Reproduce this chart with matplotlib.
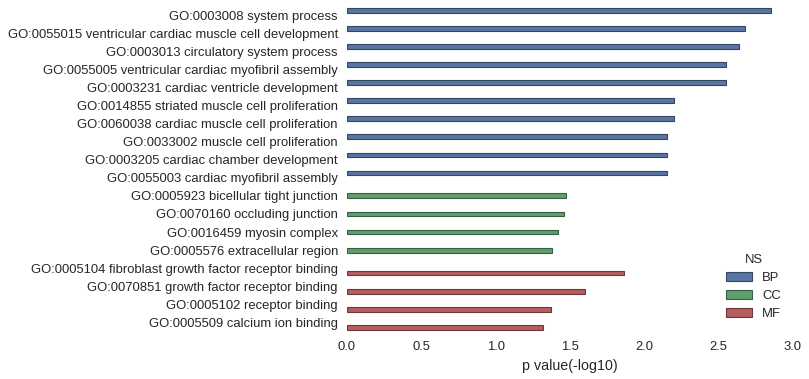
#Imports
import matplotlib
matplotlib.use('Agg')
import matplotlib.pyplot as plt
import numpy as np
import colorsys

plt.rcParams['font.family'] = ['Liberation Sans', 'DejaVu Sans']

#GO enrichment terms, top to bottom
terms = ['GO:0003008 system process',
         'GO:0055015 ventricular cardiac muscle cell development',
         'GO:0003013 circulatory system process',
         'GO:0055005 ventricular cardiac myofibril assembly',
         'GO:0003231 cardiac ventricle development',
         'GO:0014855 striated muscle cell proliferation',
         'GO:0060038 cardiac muscle cell proliferation',
         'GO:0033002 muscle cell proliferation',
         'GO:0003205 cardiac chamber development',
         'GO:0055003 cardiac myofibril assembly',
         'GO:0005923 bicellular tight junction',
         'GO:0070160 occluding junction',
         'GO:0016459 myosin complex',
         'GO:0005576 extracellular region',
         'GO:0005104 fibroblast growth factor receptor binding',
         'GO:0070851 growth factor receptor binding',
         'GO:0005102 receptor binding',
         'GO:0005509 calcium ion binding']
ns = ['BP'] * 10 + ['CC'] * 4 + ['MF'] * 4
pvals = [2.85, 2.68, 2.64, 2.55, 2.55, 2.20, 2.20, 2.15, 2.15, 2.15,
         1.47, 1.46, 1.42, 1.38,
         1.86, 1.60, 1.37, 1.32]
ns_levels = ['BP', 'CC', 'MF']
base_colors = ['#4C72B0', '#55A868', '#C44E52']

def desat(hexcol, prop=0.75):
    rgb = matplotlib.colors.to_rgb(hexcol)
    h, l, s = colorsys.rgb_to_hls(*rgb)
    return colorsys.hls_to_rgb(h, l, s * prop)

colors = [desat(c) for c in base_colors]

fig = plt.figure(figsize=(8.09, 3.79), dpi=100)
ax = fig.add_axes([0.4289, 0.1253, 0.5513, 0.8587])

ypos = np.arange(len(terms))
w = 0.8 / len(ns_levels)
for i, lev in enumerate(ns_levels):
    idx = [k for k in range(len(terms)) if ns[k] == lev]
    off = -0.4 + w * (i + 0.5)
    edge = tuple(np.array(colors[i]) * 0.6)
    ax.barh(ypos[idx] + off, [pvals[k] for k in idx], height=w,
            color=colors[i], edgecolor=edge, linewidth=0.8, label=lev)

ax.set_yticks(ypos)
ax.set_yticklabels(terms)
ax.set_ylim(len(terms) - 0.5, -0.5)
ax.set_xlim(0, 3.0)
ax.set_xticks(np.arange(0, 3.01, 0.5))
ax.set_xlabel('p value(-log10)', fontsize=10.3, color='#262626', labelpad=4)
ax.tick_params(axis='both', length=0, labelsize=9.4, colors='#262626')
ax.tick_params(axis='y', pad=6.5)
ax.tick_params(axis='x', pad=7)
for s in ax.spines.values():
    s.set_visible(False)

leg = ax.legend(title='NS', loc='lower right', frameon=False, fontsize=9.4,
                title_fontsize=9.4, handlelength=2.0, handleheight=0.7,
                borderaxespad=0.5, labelspacing=0.45)
for t in leg.get_texts():
    t.set_color('#262626')
leg.get_title().set_color('#262626')

plt.savefig('out.png', dpi=100)
